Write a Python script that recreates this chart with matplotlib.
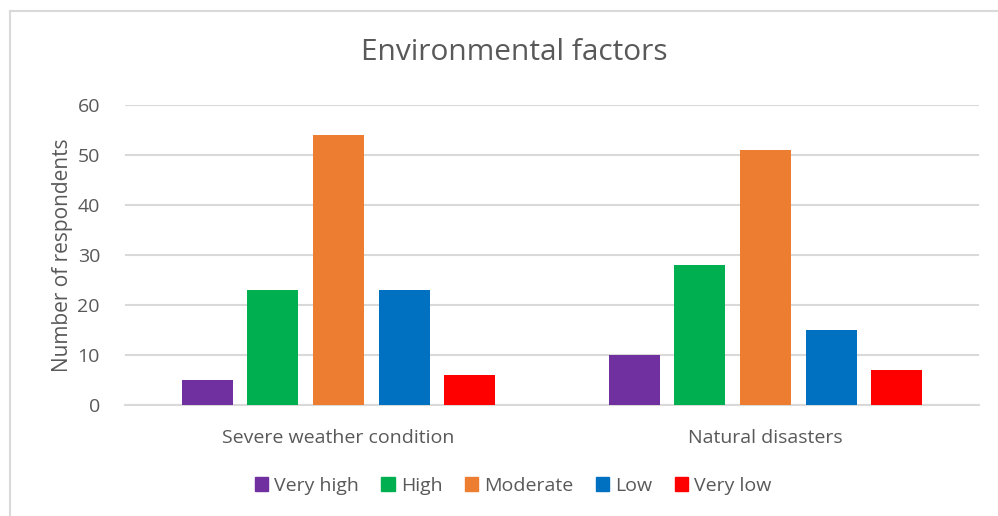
import numpy as np
import matplotlib.pyplot as plt
from matplotlib.lines import Line2D
from matplotlib.patches import Patch

plt.rcParams['font.family'] = ['Open Sans', 'DejaVu Sans']

categories = ['Severe weather condition', 'Natural disasters']
levels = ['Very high', 'High', 'Moderate', 'Low', 'Very low']
counts = {
    'Very high': [5, 10],
    'High': [23, 28],
    'Moderate': [54, 51],
    'Low': [23, 15],
    'Very low': [6, 7],
}
colors = ['#7030A0', '#00B050', '#ED7D31', '#0070C0', '#FF0000']
text_color = '#595959'
grid_color = '#D9D9D9'

fig = plt.figure(figsize=(9.98, 5.16), dpi=100)
ax = fig.add_axes([125 / 998, 111 / 516, 854 / 998, 300 / 516])

x = np.arange(len(categories))
step = 0.1538
width = 0.1194
for i, lvl in enumerate(levels):
    ax.bar(x + (i - 2) * step, counts[lvl], width, color=colors[i],
           label=lvl, zorder=3)

ax.set_xlim(-0.5, 1.5)
ax.set_ylim(0, 60)
ax.set_yticks(range(0, 61, 10))
ax.set_xticks(x)
ax.set_xticklabels(categories)
ax.yaxis.grid(True, color=grid_color, linewidth=1.5, zorder=0)
for s in ['top', 'right', 'left']:
    ax.spines[s].set_visible(False)
ax.spines['bottom'].set_color(grid_color)
ax.spines['bottom'].set_linewidth(1.5)
ax.tick_params(axis='both', length=0, labelsize=14, colors=text_color)
ax.tick_params(axis='y', pad=18)
ax.tick_params(axis='x', pad=17)
ax.set_ylabel('Number of respondents', fontsize=15, color=text_color, labelpad=3)

fig.text(0.515, 1 - 52 / 516, 'Environmental factors', ha='center', va='center',
         fontsize=21.5, color=text_color)

handles = [Patch(color=c, label=l) for c, l in zip(colors, levels)]
fig.legend(handles=handles, loc='center', bbox_to_anchor=(0.514, 1 - 486 / 516),
           ncol=5, frameon=False, fontsize=14, labelcolor=text_color,
           handlelength=0.7, handleheight=0.7, handletextpad=0.3, columnspacing=1.15)

# chart border
fig.add_artist(Line2D([10 / 998, 1], [1 - 11 / 516, 1 - 11 / 516], color=grid_color, lw=1.5))
fig.add_artist(Line2D([10 / 998, 10 / 998], [0, 1 - 11 / 516], color=grid_color, lw=1.5))

fig.savefig('out.png', dpi=100)
